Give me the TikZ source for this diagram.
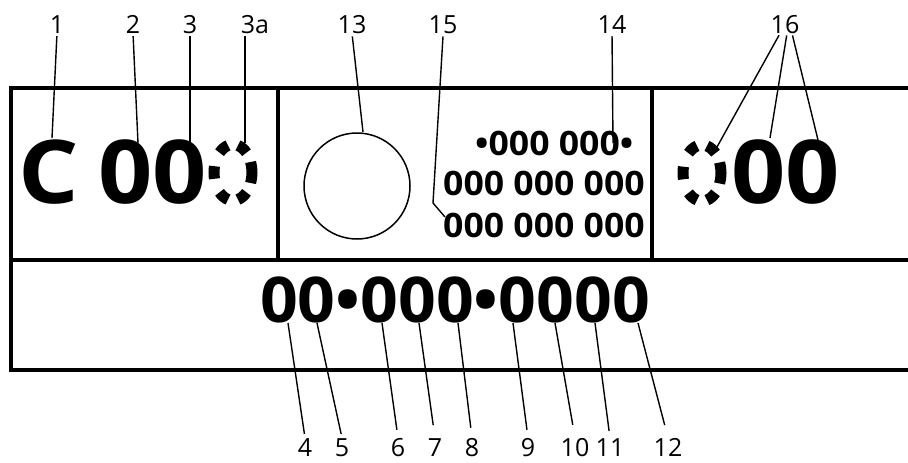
\documentclass[tikz,border=0pt]{standalone}
\usepackage{fontspec}
\setmainfont{Open Sans}
\begin{document}
\begin{tikzpicture}[x=1pt,y=-1pt,
  frame/.style={line width=4pt, line cap=rect},
  leader/.style={line width=1.4pt},
  dashseg/.style={line width=11pt},
  lab/.style={inner sep=0pt, anchor=base, font=\fontsize{25}{25}\selectfont},
  bigdig/.style={inner sep=0pt, anchor=base west, font=\fontsize{88}{88}\selectfont\bfseries},
  middig/.style={inner sep=0pt, anchor=base west, font=\fontsize{63}{63}\selectfont\bfseries},
  smalldig/.style={inner sep=0pt, anchor=base west, font=\fontsize{33.6}{33.6}\selectfont\bfseries}
]
\useasboundingbox (0,0) rectangle (908,463);
% frame
\draw[frame] (912,88) -- (11,88) -- (11,370) -- (912,370);
\draw[frame] (11,260) -- (912,260);
\draw[frame] (278,88) -- (278,260);
\draw[frame] (652,88) -- (652,260);
% top-left display
\node[bigdig] (C) at (18,203) {\scalebox{1.08}[1]{C}};
\node[bigdig] (L00) at (98,203) {\scalebox{1.08}[1]{00}};
\coordinate (e1) at (233,172.5);
\foreach \a/\w in {0/22,60/15,120/15,180/13,240/15,300/15}{
  \draw[dashseg] ([shift={(e1)}]\a-\w:19 and 28) arc[start angle=\a-\w, end angle=\a+\w, x radius=19, y radius=28];
}
% middle
\node[draw, circle, line width=1.5pt, minimum size=106pt, inner sep=0pt] (circ) at (357,186) {};
\node[smalldig] (m1) at (475,155) {\scalebox{1.06}[1]{\textbullet000 000\textbullet}};
\node[smalldig] (m2) at (443,195) {\scalebox{1.06}[1]{000 000 000}};
\node[smalldig] (m3) at (443,237) {\scalebox{1.06}[1]{000 000 000}};
% right display
\coordinate (e2) at (702,173);
\foreach \a/\w in {0/22,60/15,120/15,180/13,240/15,300/15}{
  \draw[dashseg] ([shift={(e2)}]\a-\w:19 and 28) arc[start angle=\a-\w, end angle=\a+\w, x radius=19, y radius=28];
}
\node[bigdig] (R00) at (731,203) {\scalebox{1.08}[1]{00}};
% bottom display
\node[middig] (B) at (260,322) {\scalebox{1.05}[1]{00\textbullet000\textbullet0000}};
% top labels
\node[lab] (l1) at (57,33) {1};
\node[lab] (l2) at (133,33) {2};
\node[lab] (l3) at (190,33) {3};
\node[lab] (l3a) at (255,33) {3a};
\node[lab] (l13) at (352,33) {13};
\node[lab] (l15) at (443,33) {15};
\node[lab] (l14) at (612,33) {14};
\node[lab] (l16) at (785,33) {16};
% bottom labels
\node[lab] (l4) at (305,456) {4};
\node[lab] (l5) at (342,456) {5};
\node[lab] (l6) at (398,456) {6};
\node[lab] (l7) at (435,456) {7};
\node[lab] (l8) at (472,456) {8};
\node[lab] (l9) at (528,456) {9};
\node[lab] (l10) at (575,456) {10};
\node[lab] (l11) at (610,456) {11};
\node[lab] (l12) at (668,456) {12};
% attach points
\coordinate (c1) at (52,138);
\coordinate (c2) at (138,143);
\coordinate (c3) at (190,142);
\coordinate (c3a) at (245,143);
\coordinate (c13) at (363,132);
\coordinate (b15) at (433,203);
\coordinate (c15) at (445,217);
\coordinate (c14) at (613,143);
\coordinate (c16a) at (717,147);
\coordinate (c16b) at (770,138);
\coordinate (c16c) at (818,140);
\coordinate (c4) at (288,323);
\coordinate (c5) at (317,323);
\coordinate (c6) at (382,323);
\coordinate (c7) at (419,323);
\coordinate (c8) at (458,323);
\coordinate (c9) at (513,323);
\coordinate (c10) at (555,323);
\coordinate (c11) at (595,323);
\coordinate (c12) at (638,323);
% top leaders
\draw[leader, shorten <=3pt] (l1.south) -- (c1);
\draw[leader, shorten <=3pt] (l2.south) -- (c2);
\draw[leader, shorten <=3pt] (l3.south) -- (c3);
\draw[leader, shorten <=3pt] (l3a.south -| c3a) -- (c3a);
\draw[leader, shorten <=3pt] (l13.south) -- (c13);
\draw[leader] ([yshift=-3pt]l15.south) -- (b15) -- (c15);
\draw[leader, shorten <=3pt] (l14.south) -- (c14);
\draw[leader, shorten <=2pt] ([xshift=-5pt]l16.south) -- (c16a);
\draw[leader, shorten <=2pt] ([xshift=2pt]l16.south) -- (c16b);
\draw[leader, shorten <=2pt] ([xshift=7pt]l16.south) -- (c16c);
% bottom leaders
\draw[leader, shorten <=4pt] (l4.north) -- (c4);
\draw[leader, shorten <=4pt] (l5.north) -- (c5);
\draw[leader, shorten <=8pt] (l6.north) -- (c6);
\draw[leader, shorten <=13pt] (l7.north) -- (c7);
\draw[leader, shorten <=10pt] (l8.north) -- (c8);
\draw[leader, shorten <=8pt] (l9.north) -- (c9);
\draw[leader, shorten <=13pt] (l10.north) -- (c10);
\draw[leader, shorten <=7pt] (l11.north) -- (c11);
\draw[leader, shorten <=13pt] (l12.north) -- (c12);
\end{tikzpicture}
\end{document}
